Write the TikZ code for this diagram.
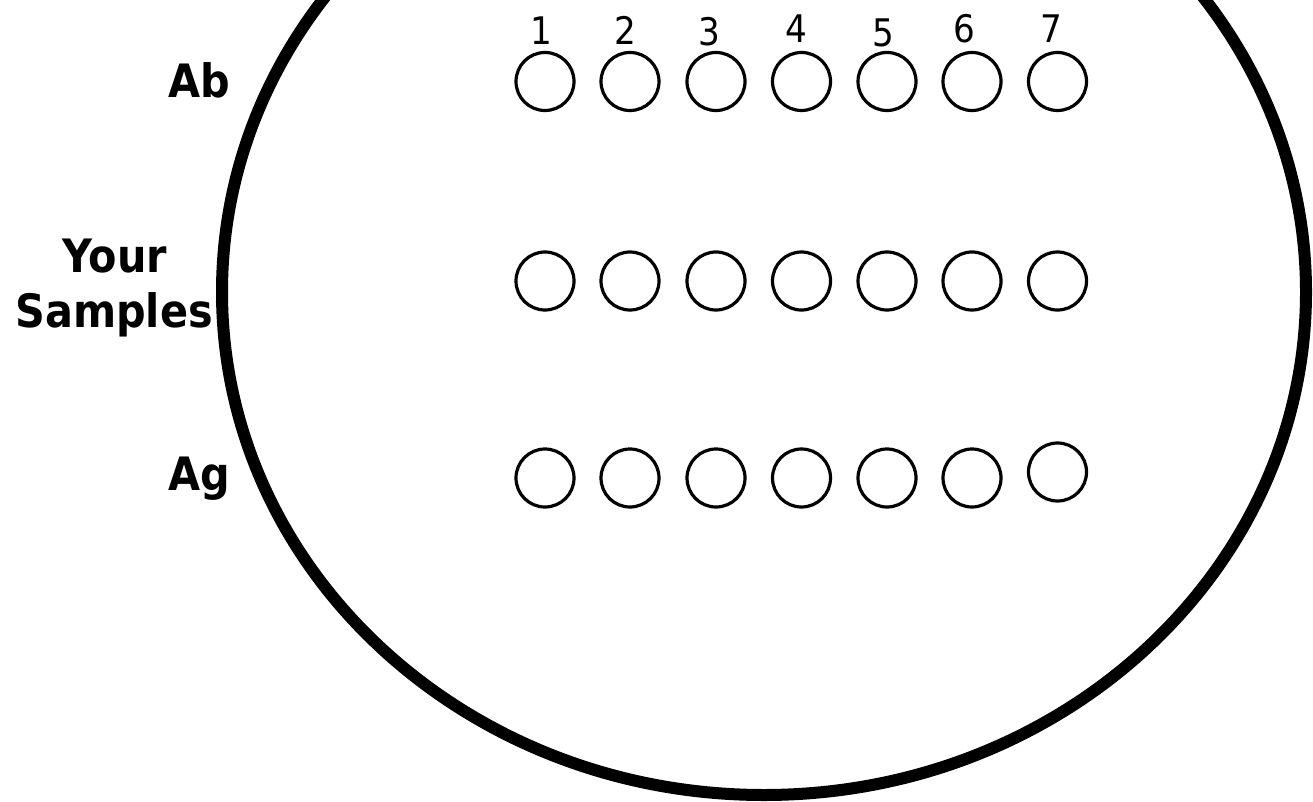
\documentclass[tikz,border=0pt]{standalone}
\usepackage{fontspec}
\setmainfont{DejaVu Sans}[FakeStretch=0.9]
\begin{document}
\begin{tikzpicture}[x=1pt,y=-1pt,
  well/.style={circle,draw=black,line width=3.2pt,minimum size=58pt,inner sep=0pt},
  rowlabel/.style={inner sep=0pt,font=\fontsize{46}{55}\selectfont\bfseries},
  numlabel/.style={inner sep=0pt,anchor=base,font=\fontsize{38}{44}\selectfont},
  plate/.style={line width=12pt,draw=black}]
\useasboundingbox (0,0) rectangle (1313,802);
\fill[white] (0,0) rectangle (1313,802);
% plate
\draw[plate] (764,292) ellipse [x radius=542, y radius=503];
% row labels
\node[rowlabel,anchor=base east] (ab) at (230,98) {Ab};
\node[rowlabel,anchor=base] (your) at (115,272) {Your};
\node[rowlabel,anchor=base] (samples) at (114,327) {Samples};
\node[rowlabel,anchor=base east] (ag) at (230,490) {Ag};
% column numbers
\node[numlabel] (n1) at (541,45) {1};
\node[numlabel] (n2) at (625,45) {2};
\node[numlabel] (n3) at (709,46) {3};
\node[numlabel] (n4) at (796,43) {4};
\node[numlabel] (n5) at (883,47) {5};
\node[numlabel] (n6) at (964,43) {6};
\node[numlabel] (n7) at (1051,43) {7};
% wells
\foreach \i/\x in {1/545,2/630,3/716,4/801.5,5/887,6/972,7/1057.5}{
  \node[well] (a\i) at (\x,81.5) {};
  \node[well] (s\i) at (\x,281) {};
}
\foreach \i/\x in {1/545,2/630,3/716,4/801.5,5/887,6/972}{
  \node[well] (g\i) at (\x,478) {};
}
\node[well] (g7) at (1057.5,472) {};
\end{tikzpicture}
\end{document}
